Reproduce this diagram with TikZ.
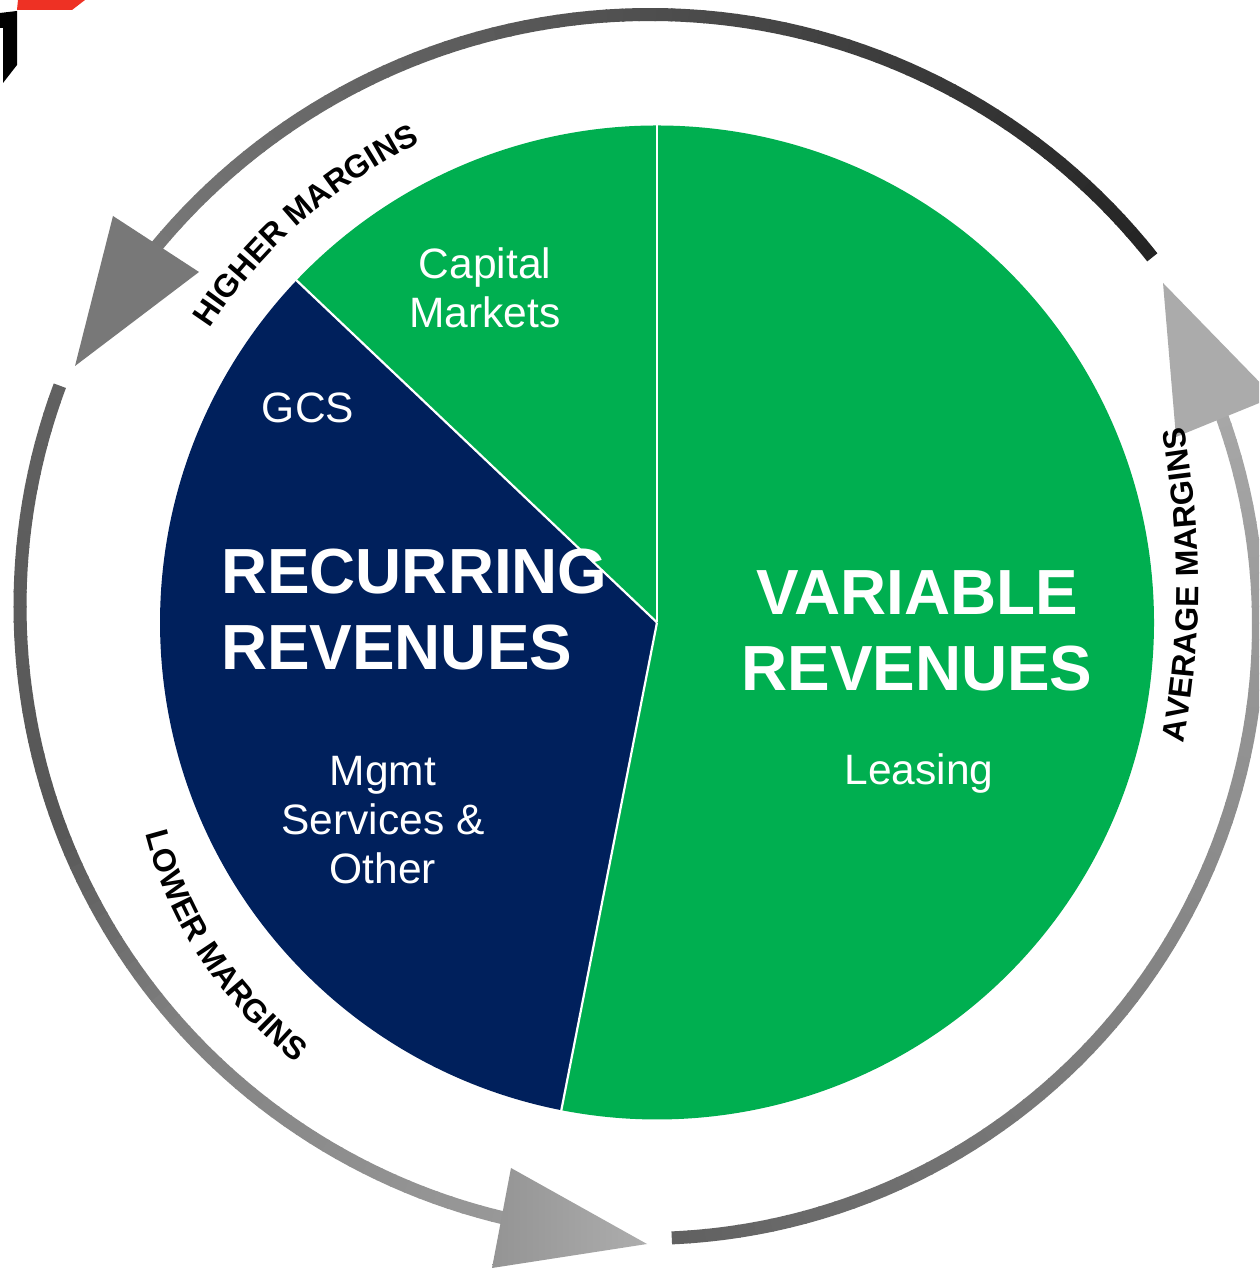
\documentclass[tikz,border=0pt]{standalone}
\usepackage{fontspec}
\setmainfont{Liberation Sans}
\usetikzlibrary{decorations.text,calc}
\definecolor{pgreen}{HTML}{00AF50}
\definecolor{pnavy}{HTML}{00205C}
\definecolor{logored}{HTML}{EE3124}
\newcommand{\gradarc}[9]{% cx cy r a0 a1 blackA blackB n width
  \foreach \ii in {1,...,#8}{
    \pgfmathsetmacro{\aS}{#4+(#5-#4)*(\ii-1)/#8}
    \pgfmathsetmacro{\aE}{#4+(#5-#4)*\ii/#8+0.15}
    \pgfmathsetmacro{\pp}{#6+(#7-#6)*(\ii-0.5)/#8}
    \draw[black!\pp,line width=#9] ($(#1,#2)+(\aS:#3)$) arc[start angle=\aS,end angle=\aE,radius=#3];
  }}
\tikzset{
  slice/.style={draw=white,line width=2.2pt,line join=round},
  bigtxt/.style={text=white,font=\fontsize{63.8}{76}\selectfont\bfseries,inner sep=0pt,align=center},
  smalltxt/.style={text=white,font=\fontsize{42.5}{49}\selectfont,inner sep=0pt,align=center},
}
\begin{document}
\begin{tikzpicture}[x=1pt,y=1pt]
\useasboundingbox (0,0) rectangle (1259,1268);
\clip (0,0) rectangle (1259,1268);
\fill[white] (0,0) rectangle (1259,1268);
% logo fragments
\fill[logored] (18,1268) -- (85,1268) -- (72,1258) -- (17,1258) -- cycle;
\fill[black] (0,1255) -- (17,1257) -- (17,1203) -- (3,1185) -- (3,1240) -- (0,1240) -- cycle;
% pie
\coordinate (c) at (657,645.5);
\path[fill=pgreen] (c) -- ++(90:497) arc[start angle=90,end angle=-101.1,radius=497] -- cycle;
\path[fill=pgreen] (c) -- ++(90:497) arc[start angle=90,end angle=136.5,radius=497] -- cycle;
\path[fill=pnavy] (c) -- ++(136.5:497) arc[start angle=136.5,end angle=258.9,radius=497] -- cycle;
\draw[slice] (c) -- ++(90:498);
\draw[slice] (c) -- ++(136.5:498);
\draw[slice] (c) -- ++(258.9:498);
% rings
\gradarc{650}{612.5}{641}{38.4}{140.5}{86}{53}{70}{13pt}
\gradarc{649}{662}{629}{159.5}{200.5}{62}{66}{30}{13pt}
\gradarc{649}{662}{629}{200.5}{221}{66}{50}{16}{13pt}
\gradarc{649}{662}{629}{221}{257}{50}{40}{26}{13pt}
\gradarc{645}{643}{613.5}{272.5}{382}{62}{34}{70}{13pt}
% arrowheads
\fill[black!53] (113,1052) -- (199,996) -- (75,902) -- cycle;
\fill[black!33] (1163,985) -- (1274,871) -- (1176,831) -- cycle;
\shade[left color=black!42,right color=black!32] (511,100) -- (647,24) -- (492,0) -- cycle;
% labels on rings
\path[decorate,decoration={text along path,text align=center,
  text={|\fontsize{32}{32}\selectfont\bfseries|HIGHER MARGINS}}]
  ($(c)+(147.5:535)$) arc[start angle=147.5,end angle=115.5,radius=535];
\path[decorate,decoration={text along path,text align=center,
  text={|\fontsize{32}{32}\selectfont\bfseries|AVERAGE MARGINS}}]
  (1184,526) .. controls (1203,631) and (1203,735) .. (1184,840);
\path[decorate,decoration={text along path,text align=center,
  text={|\fontsize{32}{32}\selectfont\bfseries|LOWER MARGINS}}]
  (145,436) .. controls (167,348) and (217,268) .. (297,204);
% text
\node[bigtxt,align=left,anchor=west] (rec) at (221,658.5) {RECURRING\\REVENUES};
\node[smalltxt] (capm) at (485,980) {Capital\\Markets};
\node[smalltxt] (gcs) at (308,860) {GCS};
\node[bigtxt] (var) at (917,637.5) {VARIABLE\\REVENUES};
\node[smalltxt] (lea) at (919,494) {Leasing};
\node[smalltxt] (mgmt) at (383,448) {Mgmt\\Services \&\\Other};
\end{tikzpicture}
\end{document}
